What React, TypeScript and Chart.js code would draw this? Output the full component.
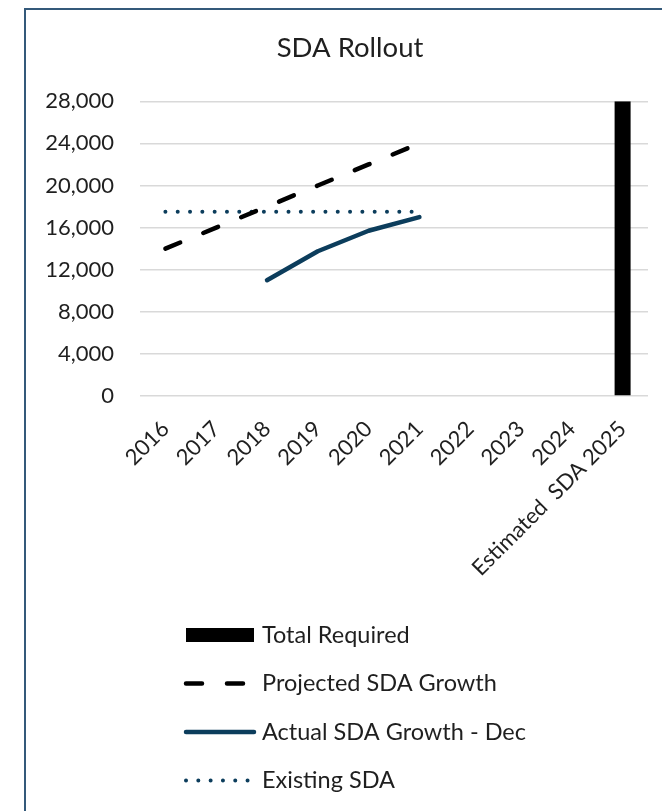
import { useEffect, useRef } from 'react';
import { Chart, registerables } from 'chart.js';

Chart.register(...registerables);

const categories = ['2016', '2017', '2018', '2019', '2020', '2021', '2022', '2023', '2024', 'Estimated  SDA 2025'];
const totalRequired = [null, null, null, null, null, null, null, null, null, 28000];
const projectedGrowth = [14000, 16000, 18000, 20000, 22000, 24000, null, null, null, null];
const actualGrowth = [null, null, 11000, 13750, 15700, 17000, null, null, null, null];
const existingSda = [17500, 17500, 17500, 17500, 17500, 17500, null, null, null, null];
const yMin = 0;
const yMax = 28000;
const yStep = 4000;

const FONT = 'Lato, "Open Sans", sans-serif';
const TEXT = '#1f1f1f';
const NAVY = '#0c3d5c';

const legendPlugin = {
  id: 'stackedLegend',
  afterDraw(chart: any) {
    const ctx = chart.ctx as CanvasRenderingContext2D;
    const ds = chart.data.datasets as any[];
    ctx.save();
    ctx.font = `23.5px ${FONT}`;
    const symW = 70;
    const textGap = 8;
    const rowH = 48.5;
    const left = chart.chartArea.left + 44;
    const y0 = chart.scales.x.bottom + 39;
    ds.forEach((d, i) => {
      const y = y0 + i * rowH;
      if (d.type === 'line') {
        ctx.beginPath();
        ctx.strokeStyle = d.borderColor;
        ctx.lineWidth = d.borderWidth;
        ctx.lineCap = 'round';
        ctx.setLineDash(d.borderDash || []);
        ctx.moveTo(left + 2, y);
        ctx.lineTo(left + symW, y);
        ctx.stroke();
      } else {
        ctx.setLineDash([]);
        ctx.fillStyle = d.backgroundColor;
        ctx.fillRect(left + 2, y - 7, 68, 14);
      }
      ctx.setLineDash([]);
      ctx.fillStyle = TEXT;
      ctx.textAlign = 'left';
      ctx.textBaseline = 'middle';
      ctx.fillText(d.label, left + symW + textGap, y);
    });
    ctx.restore();
  },
};

export default function App() {
  const ref = useRef<HTMLCanvasElement | null>(null);

  useEffect(() => {
    if (!ref.current) return;
    const chart = new Chart(ref.current, {
      type: 'bar',
      data: {
        labels: categories,
        datasets: [
          {
            type: 'bar',
            label: 'Total Required',
            data: totalRequired,
            backgroundColor: '#000000',
            barPercentage: 0.315,
            categoryPercentage: 1,
            order: 4,
          } as any,
          {
            type: 'line',
            label: 'Projected SDA Growth',
            data: projectedGrowth,
            borderColor: '#000000',
            borderWidth: 4.5,
            borderDash: [16, 25],
            borderCapStyle: 'round',
            pointRadius: 0,
            pointHitRadius: 0,
            tension: 0,
            order: 2,
          },
          {
            type: 'line',
            label: 'Actual SDA Growth - Dec',
            data: actualGrowth,
            borderColor: NAVY,
            borderWidth: 4.5,
            borderCapStyle: 'round',
            borderJoinStyle: 'round',
            pointRadius: 0,
            pointHitRadius: 0,
            tension: 0,
            order: 1,
          },
          {
            type: 'line',
            label: 'Existing SDA',
            data: existingSda,
            borderColor: NAVY,
            borderWidth: 4,
            borderDash: [0.01, 12.3],
            borderCapStyle: 'round',
            pointRadius: 0,
            pointHitRadius: 0,
            tension: 0,
            order: 3,
          },
        ],
      },
      plugins: [legendPlugin],
      options: {
        responsive: false,
        animation: false,
        devicePixelRatio: 1,
        layout: { padding: { left: 17, right: 21, top: 0, bottom: 215 } },
        plugins: {
          legend: { display: false },
          tooltip: { enabled: false },
          title: {
            display: true,
            text: 'SDA Rollout',
            color: TEXT,
            font: { family: FONT, size: 27.5, weight: 'normal', lineHeight: 1.2 },
            padding: { top: 22, bottom: 36.3 },
          },
        },
        scales: {
          x: {
            offset: true,
            grid: { display: false, drawTicks: false },
            border: { display: false },
            ticks: {
              autoSkip: false,
              minRotation: 45,
              maxRotation: 45,
              padding: 20,
              color: TEXT,
              font: { family: FONT, size: 22 },
            },
            afterFit(scale: any) {
              scale.height = 200;
            },
          },
          y: {
            min: yMin,
            max: yMax,
            grid: { color: '#d9d9d9', lineWidth: 1.5, drawTicks: false },
            border: { display: false },
            ticks: {
              stepSize: yStep,
              padding: 26,
              color: TEXT,
              font: { family: FONT, size: 22 },
              callback: (v: any) => Number(v).toLocaleString('en-US'),
            },
            afterFit(scale: any) {
              scale.width = 97;
            },
          },
          yRightSpacer: {
            position: 'right',
            min: yMin,
            max: yMax,
            grid: { display: false, drawTicks: false },
            border: { display: false },
            ticks: { display: false },
            afterFit(scale: any) {
              scale.width = 9;
            },
          },
        },
      },
    });
    return () => chart.destroy();
  }, []);

  return (
    <div style={{ position: 'fixed', left: 0, top: 0, width: 662, height: 811, overflow: 'hidden', background: '#fff' }}>
      <div
        style={{
          position: 'absolute',
          left: 24,
          top: 8,
          width: 680,
          height: 900,
          border: '2px solid #34597a',
          boxSizing: 'border-box',
        }}
      />
      <canvas ref={ref} width={652} height={801} style={{ position: 'absolute', left: 26, top: 10, width: 652, height: 801 }} />
    </div>
  );
}
